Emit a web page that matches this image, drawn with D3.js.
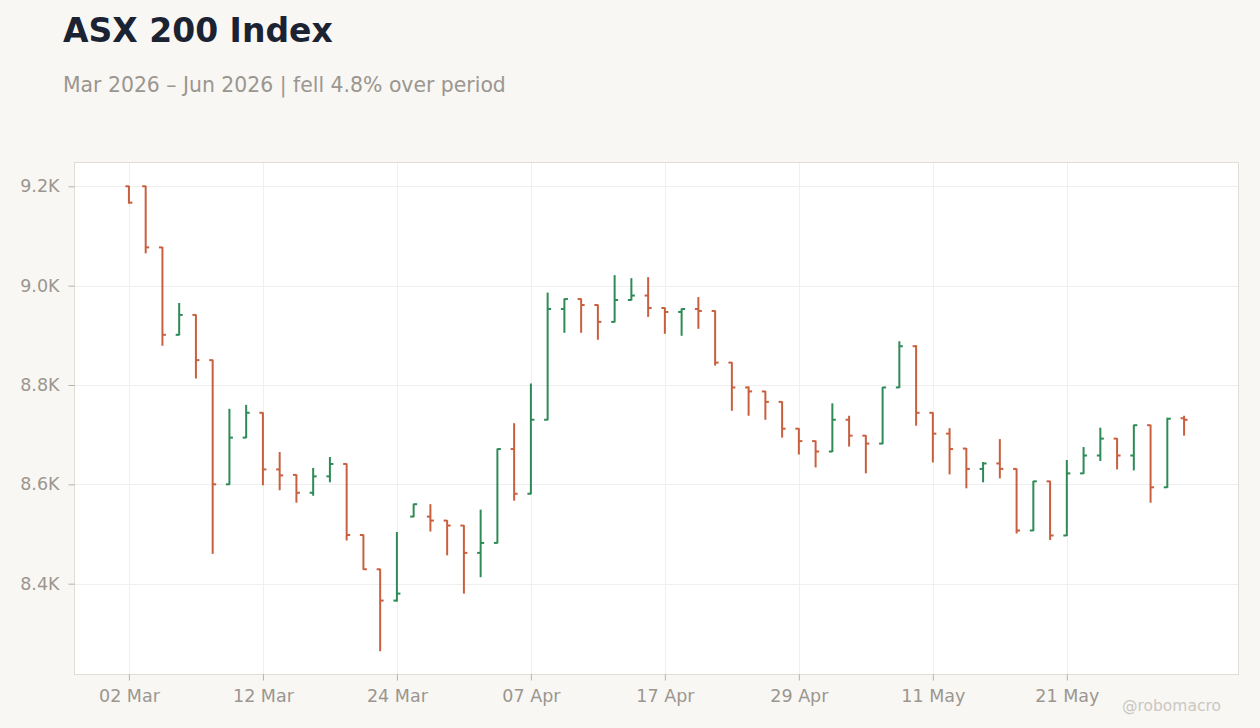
<!DOCTYPE html>
<html>
<head>
<meta charset="utf-8">
<script src="https://cdn.jsdelivr.net/npm/d3@7"></script>
<style>
  html, body { margin: 0; padding: 0; background: #f8f7f4; }
  svg { display: block; font-family: "DejaVu Sans", sans-serif; }
</style>
</head>
<body>
<svg id="chart" width="1260" height="728"></svg>
<script>
// ---- data ----
const dates = [
  "2026-03-02","2026-03-03","2026-03-04","2026-03-05","2026-03-06","2026-03-09","2026-03-10","2026-03-11",
  "2026-03-12","2026-03-13","2026-03-16","2026-03-17","2026-03-18","2026-03-19","2026-03-20","2026-03-23",
  "2026-03-24","2026-03-25","2026-03-26","2026-03-27","2026-03-30","2026-03-31","2026-04-01","2026-04-02",
  "2026-04-07","2026-04-08","2026-04-09","2026-04-10","2026-04-13","2026-04-14","2026-04-15","2026-04-16",
  "2026-04-17","2026-04-20","2026-04-21","2026-04-22","2026-04-23","2026-04-24","2026-04-27","2026-04-28",
  "2026-04-29","2026-04-30","2026-05-01","2026-05-04","2026-05-05","2026-05-06","2026-05-07","2026-05-08",
  "2026-05-11","2026-05-12","2026-05-13","2026-05-14","2026-05-15","2026-05-18","2026-05-19","2026-05-20",
  "2026-05-21","2026-05-22","2026-05-25","2026-05-26","2026-05-27","2026-05-28","2026-05-29","2026-06-01"
];
const open = [
  9200, 9200, 9077, 8901, 8941, 8850, 8600, 8694,
  8744, 8630, 8619, 8583, 8616, 8641, 8498, 8429,
  8366, 8535, 8535, 8527, 8517, 8462, 8482, 8671,
  8581, 8730, 8953, 8973, 8961, 8927, 8971, 8980,
  8955, 8947, 8953, 8949, 8845, 8795, 8787, 8766,
  8712, 8687, 8666, 8730, 8698, 8682, 8795, 8878,
  8744, 8702, 8672, 8631, 8642, 8631, 8507, 8606,
  8497, 8622, 8658, 8692, 8658, 8719, 8594, 8733
];
const high = [
  9201, 9201, 9078, 8965, 8942, 8851, 8752, 8760,
  8745, 8665, 8620, 8633, 8655, 8642, 8499, 8430,
  8504, 8561, 8560, 8528, 8518, 8549, 8672, 8723,
  8803, 8986, 8974, 8974, 8962, 9021, 9015, 9017,
  8956, 8954, 8977, 8950, 8846, 8797, 8788, 8767,
  8713, 8688, 8763, 8738, 8699, 8796, 8888, 8880,
  8745, 8713, 8673, 8645, 8691, 8632, 8607, 8607,
  8649, 8675, 8714, 8693, 8720, 8720, 8734, 8738
];
const low = [
  9165, 9065, 8879, 8900, 8813, 8460, 8599, 8693,
  8598, 8588, 8563, 8577, 8604, 8487, 8428, 8264,
  8364, 8534, 8505, 8457, 8380, 8413, 8481, 8567,
  8580, 8729, 8905, 8905, 8891, 8926, 8970, 8937,
  8903, 8899, 8913, 8839, 8748, 8738, 8730, 8694,
  8660, 8634, 8665, 8676, 8622, 8681, 8794, 8718,
  8644, 8620, 8592, 8604, 8612, 8501, 8506, 8488,
  8496, 8621, 8647, 8630, 8628, 8563, 8593, 8698
];
const close = [
  9167, 9077, 8901, 8941, 8850, 8600, 8694, 8744,
  8630, 8618, 8583, 8616, 8641, 8498, 8429, 8366,
  8380, 8560, 8527, 8517, 8462, 8482, 8671, 8581,
  8730, 8953, 8973, 8961, 8927, 8971, 8980, 8955,
  8947, 8953, 8949, 8845, 8795, 8787, 8766, 8712,
  8687, 8666, 8730, 8698, 8682, 8795, 8878, 8744,
  8702, 8671, 8631, 8642, 8631, 8507, 8606, 8497,
  8622, 8658, 8692, 8658, 8719, 8594, 8732, 8730
];
const xTickDates = ["2026-03-02","2026-03-12","2026-03-24","2026-04-07","2026-04-17","2026-04-29","2026-05-11","2026-05-21"];
const yTickValues = [8400, 8600, 8800, 9000, 9200];

const titleText = "ASX 200 Index";
const subtitleText = "Mar 2026 \u2013 Jun 2026 | fell 4.8% over period";
const creditText = "@robomacro";

// ---- layout ----
const W = 1260, H = 728;
const plot = { left: 74.5, right: 1238.5, top: 162.5, bottom: 674.5 };
const upColor = "#2e8b57", downColor = "#c8603f";
const tickColor = "#9b968f";

const svg = d3.select("#chart");
svg.append("rect").attr("width", W).attr("height", H).attr("fill", "#f8f7f4");

const bars = dates.map((d, i) => ({ date: d, o: open[i], h: high[i], l: low[i], c: close[i] }));

const x = d3.scalePoint()
  .domain(dates)
  .range([plot.left, plot.right])
  .padding(3.25);

const lo = d3.min(low), hi = d3.max(high), pad = (hi - lo) * 0.05;
const y = d3.scaleLinear()
  .domain([lo - pad, hi + pad])
  .range([plot.bottom, plot.top]);

// plot background
svg.append("rect")
  .attr("x", plot.left).attr("y", plot.top)
  .attr("width", plot.right - plot.left).attr("height", plot.bottom - plot.top)
  .attr("fill", "#ffffff");

// gridlines
const grid = svg.append("g");
grid.selectAll("line.h").data(yTickValues).join("line")
  .attr("x1", plot.left).attr("x2", plot.right)
  .attr("y1", d => Math.round(y(d)) + 0.5).attr("y2", d => Math.round(y(d)) + 0.5)
  .attr("stroke", "#efefef").attr("stroke-width", 1);
grid.selectAll("line.v").data(xTickDates).join("line")
  .attr("y1", plot.top).attr("y2", plot.bottom)
  .attr("x1", d => Math.round(x(d)) + 0.5).attr("x2", d => Math.round(x(d)) + 0.5)
  .attr("stroke", "#efefef").attr("stroke-width", 1);

// frame
svg.append("rect")
  .attr("x", plot.left).attr("y", plot.top)
  .attr("width", plot.right - plot.left).attr("height", plot.bottom - plot.top)
  .attr("fill", "none").attr("stroke", "#e0dcd6").attr("stroke-width", 1);

// axes
const fmtDate = d3.timeFormat("%d %b");
const parse = d3.timeParse("%Y-%m-%d");
const xAxis = d3.axisBottom(x)
  .tickValues(xTickDates)
  .tickSize(6).tickPadding(9)
  .tickFormat(d => fmtDate(parse(d)));
const gx = svg.append("g").attr("transform", `translate(0,${plot.bottom})`).call(xAxis);
gx.select(".domain").remove();
gx.selectAll(".tick line").attr("stroke", "#b5b1ab");
gx.selectAll(".tick text").attr("fill", tickColor).attr("font-size", 17.5).attr("font-family", "DejaVu Sans");

const yAxis = d3.axisLeft(y)
  .tickValues(yTickValues)
  .tickSize(6).tickPadding(9)
  .tickFormat(d => (d / 1000).toFixed(1) + "K");
const gy = svg.append("g").attr("transform", `translate(${plot.left},0)`).call(yAxis);
gy.select(".domain").remove();
gy.selectAll(".tick line").attr("stroke", "#b5b1ab");
gy.selectAll(".tick text").attr("fill", tickColor).attr("font-size", 17.5).attr("font-family", "DejaVu Sans");

// OHLC bars
const tickLen = 3.5;
const g = svg.append("g");
const bar = g.selectAll("g.bar").data(bars).join("g")
  .attr("stroke", d => d.c >= d.o ? upColor : downColor)
  .attr("stroke-width", 2);
bar.append("line")
  .attr("x1", d => x(d.date)).attr("x2", d => x(d.date))
  .attr("y1", d => y(d.h)).attr("y2", d => y(d.l));
bar.append("line")
  .attr("x1", d => x(d.date) - tickLen).attr("x2", d => x(d.date))
  .attr("y1", d => y(d.o)).attr("y2", d => y(d.o));
bar.append("line")
  .attr("x1", d => x(d.date)).attr("x2", d => x(d.date) + tickLen)
  .attr("y1", d => y(d.c)).attr("y2", d => y(d.c));

// titles
svg.append("text").attr("x", 63).attr("y", 42)
  .attr("font-size", 33).attr("font-weight", "bold").attr("fill", "#1b2333")
  .text(titleText);
svg.append("text").attr("x", 63).attr("y", 92)
  .attr("font-size", 20.4).attr("fill", "#9b968f")
  .text(subtitleText);
svg.append("text").attr("x", 1221).attr("y", 711)
  .attr("text-anchor", "end")
  .attr("font-size", 15.5).attr("fill", "#cbc7c2")
  .text(creditText);
</script>
</body>
</html>
